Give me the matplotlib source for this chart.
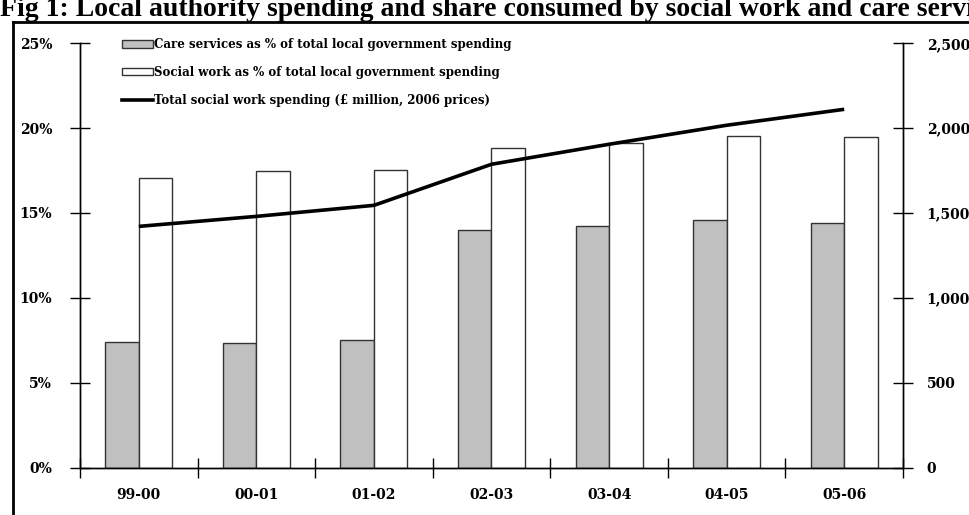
import matplotlib
matplotlib.use("Agg")
import matplotlib.pyplot as plt
import numpy as np
from matplotlib.lines import Line2D
from matplotlib.patches import Patch

years = ["99-00", "00-01", "01-02", "02-03", "03-04", "04-05", "05-06"]
care_pct = [7.41, 7.32, 7.53, 14.0, 14.23, 14.57, 14.39]
social_pct = [17.08, 17.49, 17.51, 18.83, 19.1, 19.55, 19.48]
total_spend = [1421, 1480, 1545, 1787, 1905, 2017, 2111]

pct_ticks = [0, 5, 10, 15, 20, 25]
spend_ticks = [0, 500, 1000, 1500, 2000, 2500]

SERIF = "DejaVu Serif"
plt.rcParams["font.family"] = SERIF
plt.rcParams["font.weight"] = "bold"

fig = plt.figure(figsize=(9.7, 5.15), dpi=100)
ax = fig.add_axes([80 / 970, 47.5 / 515, 823 / 970, 424.2 / 515])
ax2 = ax.twinx()

x = np.arange(len(years))
w = 0.285
ax.bar(x - w / 2, care_pct, width=w, color="#c0c0c0", edgecolor="#333333",
       linewidth=1.0, zorder=2)
ax.bar(x + w / 2, social_pct, width=w, color="white", edgecolor="#333333",
       linewidth=1.0, zorder=2)
ax2.plot(x, total_spend, color="black", linewidth=2.6, solid_capstyle="butt",
         zorder=3)

ax.set_xlim(-0.5, len(years) - 0.5)
ax.set_ylim(0, 25)
ax2.set_ylim(0, 2500)

ax.set_yticks(pct_ticks)
ax.set_yticklabels([f"{v}%" for v in pct_ticks])
ax2.set_yticks(spend_ticks)
ax2.set_yticklabels([f"{v:,}" for v in spend_ticks])

# category boundaries carry the ticks, labels sit at the centres
ax.set_xticks(np.arange(len(years) + 1) - 0.5)
ax.set_xticklabels([])
ax.set_xticks(x, minor=True)
ax.set_xticklabels(years, minor=True)
ax.tick_params(axis="x", which="major", direction="inout", length=14, width=1)
ax.tick_params(axis="x", which="minor", length=0, pad=15, labelsize=10)
ax.tick_params(axis="y", direction="inout", length=14, width=1, pad=13,
               labelsize=10)
ax2.tick_params(axis="y", direction="inout", length=14, width=1, pad=10,
                labelsize=10)

for a in (ax, ax2):
    a.spines["top"].set_visible(False)
    for s in ("left", "right", "bottom"):
        a.spines[s].set_linewidth(1)
        a.spines[s].set_color("black")

handles = [
    Patch(facecolor="#c0c0c0", edgecolor="#333333", linewidth=1),
    Patch(facecolor="white", edgecolor="#333333", linewidth=1),
    Line2D([0], [0], color="black", linewidth=2.6),
]
labels = [
    "Care services as % of total local government spending",
    "Social work as % of total local government spending",
    "Total social work spending (£ million, 2006 prices)",
]
ax2.legend(handles, labels, loc="upper left", bbox_to_anchor=(0.051, 1.012),
           frameon=False, fontsize=8.5, handlelength=2.6, handleheight=0.55,
           handletextpad=0.15, labelspacing=1.25, borderaxespad=0,
           borderpad=0)

# outer frame around the figure body
fig.add_artist(Line2D([13 / 970, 13 / 970], [0, 1 - 22 / 515],
                      transform=fig.transFigure, color="black", linewidth=2))
fig.add_artist(Line2D([13 / 970, 1], [1 - 22 / 515, 1 - 22 / 515],
                      transform=fig.transFigure, color="black", linewidth=2))

fig.text(0.0, 1 - 16 / 515,
         "Fig 1: Local authority spending and share consumed by social work and care services",
         family="Liberation Serif", weight="bold", fontsize=20, va="baseline",
         ha="left")

fig.savefig("out.png", dpi=100)
